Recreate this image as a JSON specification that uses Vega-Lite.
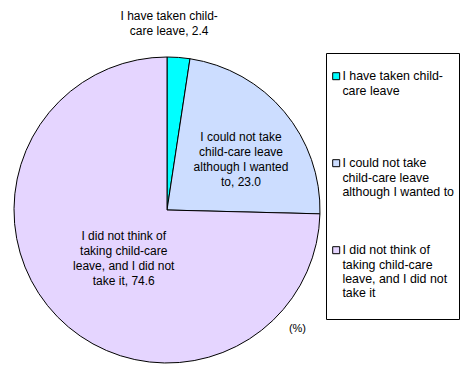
{
  "$schema": "https://vega.github.io/schema/vega-lite/v6.json",
  "width": 306,
  "height": 306,
  "autosize": {"type": "none"},
  "padding": {"left": 14, "top": 57, "right": 155, "bottom": 13},
  "background": "white",
  "config": {
    "view": {"stroke": null},
    "font": "Liberation Sans",
    "text": {"font": "Liberation Sans", "fontSize": 12}
  },
  "title": {
    "text": "(%)",
    "orient": "bottom",
    "anchor": "end",
    "frame": "group",
    "fontSize": 11,
    "fontWeight": "normal",
    "font": "Liberation Sans",
    "dx": -14,
    "offset": -42
  },
  "data": {
    "values": [
      {"idx": 1, "category": "I have taken child-care leave", "value": 2.4, "label": "I have taken child-\ncare leave, 2.4"},
      {"idx": 2, "category": "I could not take child-care leave although I wanted to", "value": 23.0, "label": "I could not take\nchild-care leave\nalthough I wanted\nto, 23.0"},
      {"idx": 3, "category": "I did not think of taking child-care leave, and I did not take it", "value": 74.6, "label": "I did not think of\ntaking child-care\nleave, and I did not\ntake it, 74.6"}
    ]
  },
  "encoding": {
    "theta": {"field": "value", "type": "quantitative", "stack": true},
    "order": {"field": "idx", "type": "quantitative", "sort": "ascending"}
  },
  "layer": [
    {
      "mark": {"type": "arc", "stroke": "black", "strokeWidth": 1},
      "encoding": {
        "color": {
          "field": "category",
          "type": "nominal",
          "sort": [
            "I have taken child-care leave",
            "I could not take child-care leave although I wanted to",
            "I did not think of taking child-care leave, and I did not take it"
          ],
          "scale": {
            "domain": [
              "I have taken child-care leave",
              "I could not take child-care leave although I wanted to",
              "I did not think of taking child-care leave, and I did not take it"
            ],
            "range": ["#00FFFF", "#CCDDFF", "#E5D5FF"]
          },
          "legend": {
            "title": " ",
            "titleFontSize": 1,
            "titlePadding": 12,
            "orient": "none",
            "legendX": 312,
            "legendY": -4,
            "symbolType": "square",
            "symbolSize": 49,
            "symbolStrokeColor": "black",
            "symbolStrokeWidth": 1,
            "labelFont": "Liberation Sans",
            "labelFontSize": 12.4,
            "labelLineHeight": 15,
            "labelColor": "black",
            "labelOffset": 0,
            "labelLimit": 200,
            "rowPadding": 16,
            "padding": 4,
            "strokeColor": "black",
            "fillColor": "white",
            "labelExpr": "datum.label == 'I have taken child-care leave' ? ['I have taken child-', 'care leave', '', '', ''] : datum.label == 'I could not take child-care leave although I wanted to' ? ['I could not take', 'child-care leave', 'although I wanted to', '', ''] : ['I did not think of', 'taking child-care', 'leave, and I did not', 'take it', '']"
          }
        }
      }
    },
    {
      "mark": {"type": "text", "radius": 188, "dx": -12, "dy": -7, "align": "center", "baseline": "middle", "lineHeight": 15, "lineBreak": "\n", "fill": "black"},
      "encoding": {
        "detail": {"field": "category"},
        "text": {"condition": {"test": "datum.idx == 1", "field": "label"}, "value": ""}
      }
    },
    {
      "mark": {"type": "text", "radius": 90, "dx": 5, "dy": -15, "align": "center", "baseline": "middle", "lineHeight": 15, "lineBreak": "\n", "fill": "black"},
      "encoding": {
        "detail": {"field": "category"},
        "text": {"condition": {"test": "datum.idx == 2", "field": "label"}, "value": ""}
      }
    },
    {
      "mark": {"type": "text", "radius": 66, "dx": 4, "dy": -20, "align": "center", "baseline": "middle", "lineHeight": 15, "lineBreak": "\n", "fill": "black"},
      "encoding": {
        "detail": {"field": "category"},
        "text": {"condition": {"test": "datum.idx == 3", "field": "label"}, "value": ""}
      }
    }
  ]
}
